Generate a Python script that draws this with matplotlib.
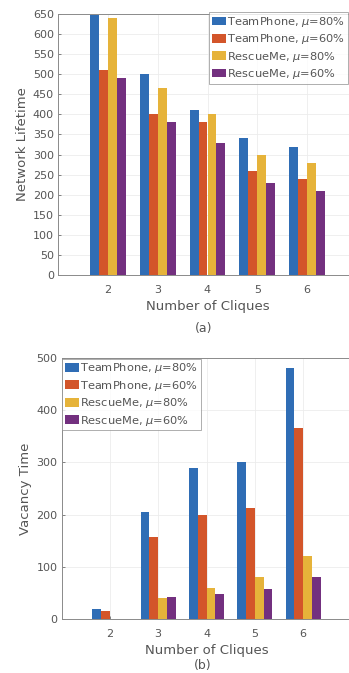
import matplotlib
matplotlib.use("Agg")
import matplotlib.pyplot as plt
import numpy as np

cliques = [2, 3, 4, 5, 6]
series_labels = [r"TeamPhone, $\mu$=80%", r"TeamPhone, $\mu$=60%",
                 r"RescueMe, $\mu$=80%", r"RescueMe, $\mu$=60%"]
colors = ["#2f6db5", "#d3552a", "#e6b33a", "#73307f"]

lifetime_tp80 = [648, 500, 410, 340, 320]
lifetime_tp60 = [510, 400, 380, 260, 240]
lifetime_rm80 = [640, 465, 400, 300, 280]
lifetime_rm60 = [490, 380, 328, 230, 210]

vacancy_tp80 = [20, 205, 290, 300, 480]
vacancy_tp60 = [15, 157, 200, 212, 365]
vacancy_rm80 = [0, 40, 60, 80, 120]
vacancy_rm60 = [0, 43, 48, 57, 80]

lifetime = [lifetime_tp80, lifetime_tp60, lifetime_rm80, lifetime_rm60]
vacancy = [vacancy_tp80, vacancy_tp60, vacancy_rm80, vacancy_rm60]

W, H = 349, 673
plt.rcParams['font.family'] = ['DejaVu Sans']
plt.rcParams['mathtext.fontset'] = 'dejavusans'
fig = plt.figure(figsize=(W / 100, H / 100), dpi=100)
txt = "#555555"


def px_axes(left, right, top, bottom):
    return fig.add_axes([left / W, 1 - bottom / H, (right - left) / W, (bottom - top) / H])


def draw(ax, data, ymax, yticks, ylabel, sub, sub_y, legend_loc, legend_anchor):
    x = np.array(cliques, dtype=float)
    bw = 0.18
    for i, (vals, c, lab) in enumerate(zip(data, colors, series_labels)):
        ax.bar(x + (i - 1.5) * bw, vals, width=bw, color=c, label=lab, edgecolor='none', zorder=3)
    ax.set_xlim(1, 7)
    ax.set_ylim(0, ymax)
    ax.set_xticks(cliques)
    ax.set_yticks(yticks)
    ax.grid(True, color="#ececec", linewidth=0.6, zorder=0)
    ax.tick_params(axis='x', labelsize=8, colors=txt, length=2, width=0.5, direction='in', pad=7)
    ax.tick_params(axis='y', labelsize=8, colors=txt, length=2, width=0.5, direction='in', pad=3)
    for s in ax.spines.values():
        s.set_color("#8a8a8a")
        s.set_linewidth(0.7)
    ax.set_ylabel(ylabel, fontsize=9.5, color=txt, labelpad=3)
    ax.set_xlabel("Number of Cliques", fontsize=9.5, color=txt, labelpad=4)
    fig.text(ax.get_position().x0 + ax.get_position().width * 0.5 * (292 / 299), 1 - sub_y / H, sub,
             fontsize=9, color=txt, ha='center', va='center')
    leg = ax.legend(loc=legend_loc, bbox_to_anchor=legend_anchor, bbox_transform=fig.transFigure,
                    fontsize=8.2, frameon=True,
                    fancybox=False, handlelength=1.2, handleheight=0.8, handletextpad=0.15,
                    borderpad=0.25, labelspacing=0.3, borderaxespad=0.0)
    leg.get_frame().set_edgecolor("#8a8a8a")
    leg.get_frame().set_linewidth(0.6)
    for t in leg.get_texts():
        t.set_color(txt)


ax1 = px_axes(58, 357, 14, 275)
draw(ax1, lifetime, 650, list(range(0, 651, 50)), "Network Lifetime", "(a)", 328,
     "upper right", (348 / W, 1 - 12 / H))

ax2 = px_axes(61.5, 351.5, 358, 619)
draw(ax2, vacancy, 500, list(range(0, 501, 100)), "Vacancy Time", "(b)", 665,
     "upper left", (62 / W, 1 - 358.5 / H))

fig.savefig("out.png", dpi=100)
